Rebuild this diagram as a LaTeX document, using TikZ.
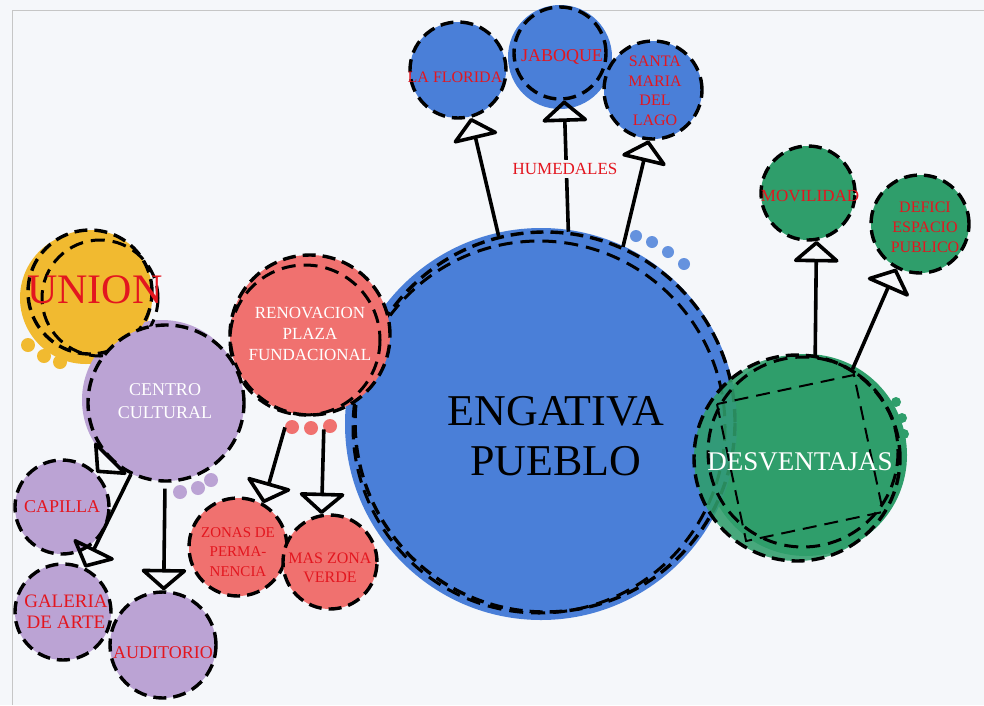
\documentclass[tikz,border=0pt]{standalone}
\usepackage{fontspec}
\setmainfont{Liberation Serif}
\usetikzlibrary{arrows.meta}
\definecolor{bgpaper}{HTML}{F5F7FA}
\definecolor{azul}{HTML}{4A7FD8}
\definecolor{verde}{HTML}{2F9E6B}
\definecolor{rosa}{HTML}{F0716F}
\definecolor{lila}{HTML}{BBA3D4}
\definecolor{amarillo}{HTML}{F1BA30}
\definecolor{rojo}{HTML}{E3161F}
\tikzset{
  bubble/.style={circle, inner sep=0pt, draw=black, line width=3.4pt, dash pattern=on 13pt off 7pt},
  ring/.style={draw=black, line width=3pt, dash pattern=on 14pt off 8pt},
  arr/.style={line width=3.6pt, -{Triangle[open, round, length=22pt, width=50pt]}},
  lbl/.style={text=rojo, align=center, inner sep=0pt}
}
\begin{document}
\begin{tikzpicture}[x=1pt, y=-1pt]
% paper
\fill[bgpaper] (0,0) rectangle (984,705);
\useasboundingbox (0,0) rectangle (984,705);
\draw[gray!45, line width=1pt] (12,705) -- (12,10) -- (984,10);

% halos and splashes
\fill[verde] (806,455) circle[radius=101];
\foreach \p in {(896,402),(902,418),(904,434)} \fill[verde] \p circle[radius=5];
\fill[azul] (541,424) circle[radius=196];
\foreach \p in {(636,236),(652,242),(668,252),(684,264)} \fill[azul!85] \p circle[radius=6];
\fill[azul] (560,57) circle[radius=52];
\fill[amarillo] (86,298) circle[radius=66];
\foreach \p in {(28,345),(44,356),(60,362)} \fill[amarillo] \p circle[radius=7];
\fill[lila] (162,400) circle[radius=80];
\foreach \p in {(180,492),(198,488),(211,480)} \fill[lila] \p circle[radius=7];
\foreach \p in {(292,427),(311,428),(330,426)} \fill[rosa] \p circle[radius=7];

% bubbles
\node[bubble, fill=azul, minimum size=380pt] (pueblo) at (545,422) {};
\draw[ring] (539,427) circle[radius=186];
\node[bubble, fill=azul, minimum size=96pt] (florida) at (458,70) {};
\node[bubble, fill=azul, minimum size=92pt] (jaboque) at (560,53) {};
\node[bubble, fill=azul, minimum size=98pt] (santa) at (653,90) {};

\node[bubble, fill=verde, fill opacity=.88, minimum size=206pt] (desv) at (797,458) {};
\draw[ring] (803,452) circle[radius=95];
\draw[ring, line width=2pt, rotate around={12:(800,458)}] (730,388) rectangle (870,528);
\node[bubble, fill=verde, minimum size=94pt] (movil) at (808,193) {};
\node[bubble, fill=verde, minimum size=98pt] (deficit) at (920,224) {};

\node[bubble, fill=rosa, minimum size=160pt] (reno) at (310,335) {};
\draw[ring] (305,340) circle[radius=75];
\node[bubble, fill=rosa, minimum size=98pt] (zonas) at (238,547) {};
\node[bubble, fill=rosa, minimum size=94pt] (maszona) at (330,562) {};

\node[bubble, fill=amarillo, minimum size=124pt] (union) at (90,292) {};
\draw[ring] (100,298) circle[radius=58];
\node[bubble, fill=lila, minimum size=156pt] (centro) at (166,403) {};
\node[bubble, fill=lila, minimum size=94pt] (capilla) at (62,507) {};
\node[bubble, fill=lila, minimum size=96pt] (galeria) at (63,612) {};
\node[bubble, fill=lila, minimum size=106pt] (audit) at (163,645) {};

% arrows
\draw[arr] (pueblo.104) -- (florida.285);
\draw[arr] (pueblo.83) -- (jaboque.275);
\draw[arr] (pueblo.66) -- (santa.265);
\draw[arr] (desv.80) -- (movil.280);
\draw[arr] (desv.58) -- (deficit.242);
\draw[arr, shorten <=14pt] (reno.255) -- (zonas.60);
\draw[arr, shorten <=14pt] (reno.280) -- (maszona.100);
\draw[arr] (centro) -- (capilla);
\draw[arr] (centro) -- (galeria);
\draw[arr, shorten <=6pt] (centro) -- (audit);

% labels
\node[lbl, text=black, font=\fontsize{44}{50}\selectfont] (pueblo-t) at (556,436) {ENGATIVA\\PUEBLO};
\node[lbl, text=white, font=\fontsize{27}{30}\selectfont] (desv-t) at (800,462) {DESVENTAJAS};
\node[lbl, font=\fontsize{17}{20}\selectfont] (movil-t) at (810,196) {MOVILIDAD};
\node[lbl, font=\fontsize{16}{20}\selectfont] (deficit-t) at (925,227) {DEFICI\\ESPACIO\\PUBLICO};
\node[lbl, font=\fontsize{16}{18}\selectfont] (florida-t) at (455,77) {LA FLORIDA};
\node[lbl, font=\fontsize{18}{20}\selectfont] (jaboque-t) at (562,57) {JABOQUE};
\node[lbl, font=\fontsize{16}{19.5}\selectfont] (santa-t) at (655,91) {SANTA\\MARIA\\DEL\\LAGO};
\node[lbl, fill=bgpaper, inner sep=3pt, font=\fontsize{17}{19}\selectfont] (humedales) at (565,169) {HUMEDALES};
\node[lbl, text=white, font=\fontsize{17}{21}\selectfont] (reno-t) at (310,334) {RENOVACION\\PLAZA\\FUNDACIONAL};
\node[lbl, font=\fontsize{15}{19.5}\selectfont] (zonas-t) at (238,552) {ZONAS DE\\PERMA-\\NENCIA};
\node[lbl, font=\fontsize{16}{19.5}\selectfont] (maszona-t) at (330,568) {MAS ZONA\\VERDE};
\node[lbl, font=\fontsize{42}{46}\selectfont] (union-t) at (95,290) {UNION};
\node[lbl, text=white, font=\fontsize{18}{23}\selectfont] (centro-t) at (165,401) {CENTRO\\CULTURAL};
\node[lbl, font=\fontsize{18}{20}\selectfont] (capilla-t) at (62,507) {CAPILLA};
\node[lbl, font=\fontsize{19}{21}\selectfont] (galeria-t) at (66,612) {GALERIA\\DE ARTE};
\node[lbl, font=\fontsize{18}{20}\selectfont] (audit-t) at (163,653) {AUDITORIO};
\end{tikzpicture}
\end{document}
